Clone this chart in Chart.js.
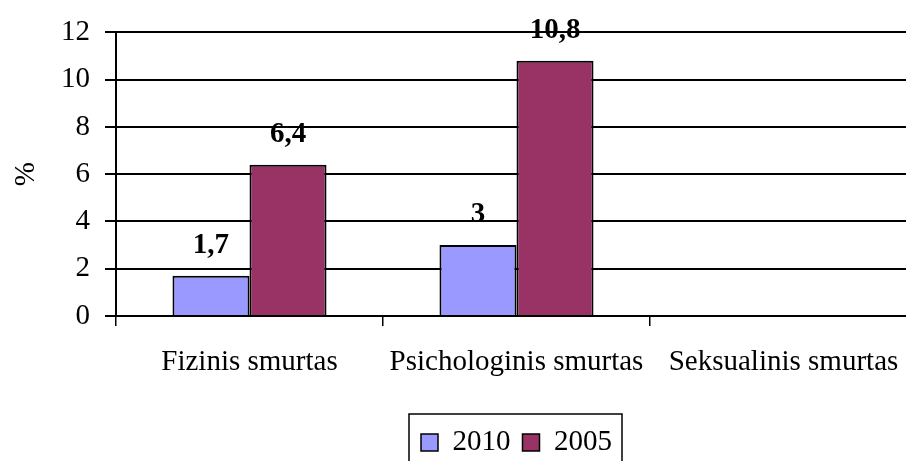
<!DOCTYPE html>
<html>
<head>
<meta charset="utf-8">
<script src="https://cdn.jsdelivr.net/npm/chart.js@4/dist/chart.umd.min.js"></script>
<style>
  html, body { margin:0; padding:0; background:#fff; overflow:hidden; }
  #wrap { width:1028px; height:467px; }
</style>
</head>
<body>
<div id="wrap"><canvas id="c" width="1028" height="467"></canvas></div>
<script>
// Data
const categories = ['Fizinis smurtas', 'Psichologinis smurtas', 'Seksualinis smurtas'];
const values2010 = [1.7, 3, null];
const values2005 = [6.4, 10.8, null];
const seriesNames = ['2010', '2005'];
const yTicks = [0, 2, 4, 6, 8, 10, 12];

const FONT = '"Liberation Serif", "Times New Roman", serif';

// value labels above bars, comma decimal
const barLabels = {
  id: 'barLabels',
  afterDatasetsDraw(chart){
    const ctx = chart.ctx;
    ctx.save();
    ctx.font = 'bold 29px ' + FONT;
    ctx.fillStyle = '#000';
    ctx.textAlign = 'center';
    ctx.textBaseline = 'alphabetic';
    chart.data.datasets.forEach((ds, i) => {
      chart.getDatasetMeta(i).data.forEach((bar, j) => {
        const v = ds.data[j];
        if(v === null || v === undefined) return;
        ctx.fillText(String(v).replace('.', ','), bar.x, bar.y - 23);
      });
    });
    ctx.restore();
  }
};

// border round the legend items
const legendBorder = {
  id: 'legendBorder',
  afterDraw(chart){
    const boxes = chart.legend && chart.legend.legendHitBoxes;
    if(!boxes || !boxes.length) return;
    const first = boxes[0], last = boxes[boxes.length-1];
    const x0 = first.left - 12, x1 = last.left + last.width + 10;
    const y0 = first.top - 14, y1 = first.top + first.height + 20;
    const ctx = chart.ctx;
    ctx.save();
    ctx.strokeStyle = '#000';
    ctx.lineWidth = 1.5;
    ctx.strokeRect(x0, y0, x1 - x0, y1 - y0);
    ctx.restore();
  }
};

new Chart(document.getElementById('c'), {
  type: 'bar',
  data: {
    labels: categories,
    datasets: [
      { label: seriesNames[0], data: values2010, backgroundColor: '#9999FF', borderColor: '#000', borderWidth: 2 },
      { label: seriesNames[1], data: values2005, backgroundColor: '#993366', borderColor: '#000', borderWidth: 2 }
    ]
  },
  options: {
    responsive: false,
    animation: false,
    events: [],
    layout: { padding: { left: 0, right: 111, top: 31, bottom: 0 } },
    datasets: { bar: { categoryPercentage: 0.577, barPercentage: 1 } },
    plugins: {
      tooltip: { enabled: false },
      legend: {
        position: 'bottom',
        fullSize: false,
        labels: {
          color: '#000',
          font: { family: FONT, size: 29 },
          boxWidth: 17,
          boxHeight: 17,
          padding: 12,
          useBorderRadius: false,
          generateLabels(chart){
            return chart.data.datasets.map((ds, i) => ({
              text: ds.label, fillStyle: ds.backgroundColor, strokeStyle: '#000',
              lineWidth: 1.5, datasetIndex: i, hidden: false
            }));
          }
        }
      }
    },
    scales: {
      x: {
        offset: true,
        grid: { offset: true, drawOnChartArea: false, color: '#000', lineWidth: 1.5, tickLength: 10, tickColor: '#000' },
        border: { color: '#000', width: 2 },
        ticks: { color: '#000', font: { family: FONT, size: 29 }, padding: 19, maxRotation: 0, autoSkip: false },
        afterFit(scale){ scale.height = 100; }
      },
      y: {
        min: 0, max: 12,
        afterBuildTicks(scale){ scale.ticks = yTicks.map(v => ({ value: v })); },
        grid: { color: '#000', lineWidth: 2, tickLength: 11, tickColor: '#000' },
        border: { color: '#000', width: 2 },
        ticks: { color: '#000', font: { family: FONT, size: 29 }, padding: 15 },
        title: { display: true, text: '%', color: '#000', font: { family: FONT, size: 29 }, padding: { top: 9, bottom: 0 } },
        afterFit(scale){ scale.width = 116; }
      }
    }
  },
  plugins: [barLabels, legendBorder]
});
</script>
</body>
</html>
